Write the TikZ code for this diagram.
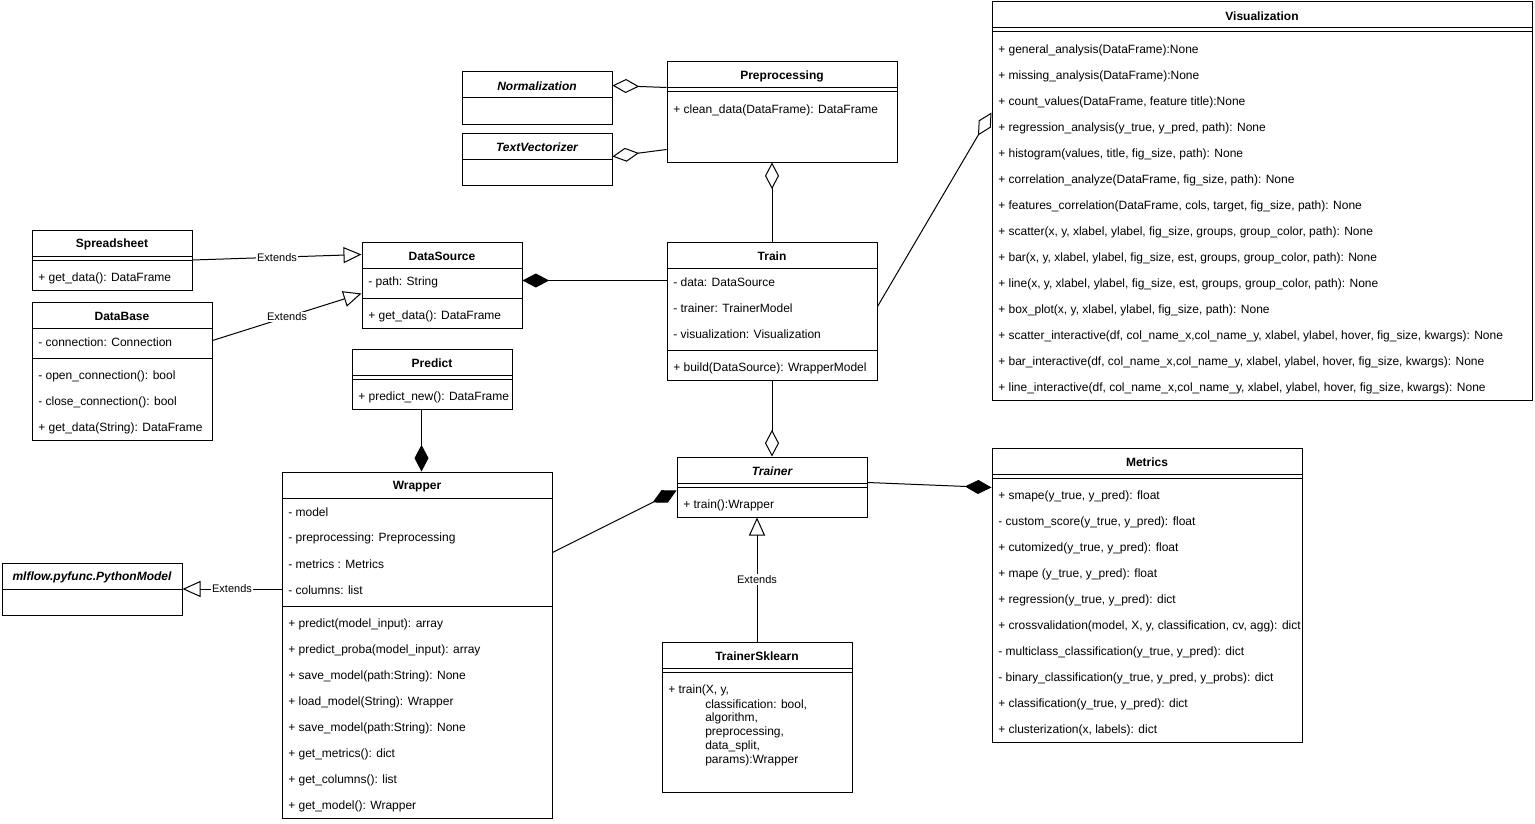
\documentclass[tikz,border=0pt]{standalone}
\usepackage{fontspec}
\setmainfont{Liberation Sans}
\usetikzlibrary{arrows.meta,fit,calc}
\begin{document}
\begin{tikzpicture}[x=0.75pt,y=-0.75pt,
  box/.style={draw, line width=0.75pt, inner sep=0pt},
  sep/.style={line width=0.75pt},
  txt/.style={anchor=west, inner sep=0pt, yshift=-1.2pt, font=\fontsize{9}{11}\selectfont},
  ttl/.style={inner sep=0pt, yshift=-1.2pt, font=\bfseries\fontsize{9}{11}\selectfont},
  ittl/.style={inner sep=0pt, yshift=-1.2pt, font=\bfseries\itshape\fontsize{9}{11}\selectfont},
  lbl/.style={fill=white, inner sep=1pt, font=\fontsize{8.25}{10}\selectfont},
  conn/.style={line width=0.75pt},
  ext/.style={conn, -{Triangle[open, length=13.5pt, width=12pt]}},
  agg/.style={conn, -{Diamond[open, length=20pt, width=10.5pt]}},
  comp/.style={conn, -{Diamond[length=20pt, width=10.5pt]}}]
\fill[white] (0,0) rectangle (1535,824);
\useasboundingbox (0,0) rectangle (1535,824);

% ---------- Visualization
\node[box, fit={(992,2)(1532,400)}] (vis) {};
\node[ttl] (vis-t) at (1262,15) {Visualization};
\draw[sep] (vis.west |- 0,28) -- (vis.east |- 0,28);
\draw[sep] (vis.west |- 0,32) -- (vis.east |- 0,32);
\foreach \t [count=\i] in {
 {+ general\_analysis(DataFrame):None},
 {+ missing\_analysis(DataFrame):None},
 {+ count\_values(DataFrame, feature title):None},
 {+ regression\_analysis(y\_true, y\_pred, path): None},
 {+ histogram(values, title, fig\_size, path): None},
 {+ correlation\_analyze(DataFrame, fig\_size, path): None},
 {+ features\_correlation(DataFrame, cols, target, fig\_size, path): None},
 {+ scatter(x, y, xlabel, ylabel, fig\_size, groups, group\_color, path): None},
 {+ bar(x, y, xlabel, ylabel, fig\_size, est, groups, group\_color, path): None},
 {+ line(x, y, xlabel, ylabel, fig\_size, est, groups, group\_color, path): None},
 {+ box\_plot(x, y, xlabel, ylabel, fig\_size, path): None},
 {+ scatter\_interactive(df, col\_name\_x,col\_name\_y, xlabel, ylabel, hover, fig\_size, kwargs): None},
 {+ bar\_interactive(df, col\_name\_x,col\_name\_y, xlabel, ylabel, hover, fig\_size, kwargs): None},
 {+ line\_interactive(df, col\_name\_x,col\_name\_y, xlabel, ylabel, hover, fig\_size, kwargs): None}}
 \node[txt] (vis-\i) at (998,{23+26*\i}) {\t};

% ---------- Preprocessing
\node[box, fit={(667,62)(897,162)}] (prep) {};
\node[ttl] (prep-t) at (782,75) {Preprocessing};
\draw[sep] (prep.west |- 0,88) -- (prep.east |- 0,88);
\draw[sep] (prep.west |- 0,92) -- (prep.east |- 0,92);
\node[txt] (prep-1) at (673,109) {+ clean\_data(DataFrame): DataFrame};

% ---------- Normalization
\node[box, fit={(462,72)(612,124)}] (norm) {};
\node[ittl] (norm-t) at (537,85) {Normalization};
\draw[sep] (norm.west |- 0,98) -- (norm.east |- 0,98);

% ---------- TextVectorizer
\node[box, fit={(462,133)(612,185)}] (tvec) {};
\node[ittl] (tvec-t) at (537,146) {TextVectorizer};
\draw[sep] (tvec.west |- 0,159) -- (tvec.east |- 0,159);

% ---------- Spreadsheet
\node[box, fit={(32,230)(192,290)}] (spread) {};
\node[ttl] (spread-t) at (112,243) {Spreadsheet};
\draw[sep] (spread.west |- 0,256) -- (spread.east |- 0,256);
\draw[sep] (spread.west |- 0,260) -- (spread.east |- 0,260);
\node[txt] (spread-1) at (38,277) {+ get\_data(): DataFrame};

% ---------- DataSource
\node[box, fit={(362,242)(522,328)}] (ds) {};
\node[ttl] (ds-t) at (442,255) {DataSource};
\draw[sep] (ds.west |- 0,268) -- (ds.east |- 0,268);
\node[txt] (ds-1) at (368,281) {- path: String};
\draw[sep] (ds.west |- 0,298) -- (ds.east |- 0,298);
\node[txt] (ds-2) at (368,315) {+ get\_data(): DataFrame};

% ---------- DataBase
\node[box, fit={(32,302)(212,440)}] (db) {};
\node[ttl] (db-t) at (122,315) {DataBase};
\draw[sep] (db.west |- 0,328) -- (db.east |- 0,328);
\node[txt] (db-1) at (38,341) {- connection: Connection};
\draw[sep] (db.west |- 0,358) -- (db.east |- 0,358);
\node[txt] (db-2) at (38,375) {- open\_connection(): bool};
\node[txt] (db-3) at (38,401) {- close\_connection(): bool};
\node[txt] (db-4) at (38,427) {+ get\_data(String): DataFrame};

% ---------- Train
\node[box, fit={(667,242)(877,380)}] (train) {};
\node[ttl] (train-t) at (772,255) {Train};
\draw[sep] (train.west |- 0,268) -- (train.east |- 0,268);
\node[txt] (train-1) at (673,281) {- data: DataSource};
\node[txt] (train-2) at (673,307) {- trainer: TrainerModel};
\node[txt] (train-3) at (673,333) {- visualization: Visualization};
\draw[sep] (train.west |- 0,350) -- (train.east |- 0,350);
\node[txt] (train-4) at (673,367) {+ build(DataSource): WrapperModel};

% ---------- Predict
\node[box, fit={(352,349)(512,409)}] (pred) {};
\node[ttl] (pred-t) at (432,362) {Predict};
\draw[sep] (pred.west |- 0,375) -- (pred.east |- 0,375);
\draw[sep] (pred.west |- 0,379) -- (pred.east |- 0,379);
\node[txt] (pred-1) at (358,396) {+ predict\_new(): DataFrame};

% ---------- Wrapper
\node[box, fit={(282,472)(552,818)}] (wrap) {};
\node[ttl] (wrap-t) at (417,485) {Wrapper};
\draw[sep] (wrap.west |- 0,498) -- (wrap.east |- 0,498);
\foreach \t [count=\i] in {{- model},{- preprocessing: Preprocessing},{- metrics : Metrics},{- columns: list}}
 \node[txt] (wrap-a\i) at (288,{485+26*\i}) {\t};
\draw[sep] (wrap.west |- 0,606) -- (wrap.east |- 0,606);
\foreach \t [count=\i] in {
 {+ predict(model\_input): array},
 {+ predict\_proba(model\_input): array},
 {+ save\_model(path:String): None},
 {+ load\_model(String): Wrapper},
 {+ save\_model(path:String): None},
 {+ get\_metrics(): dict},
 {+ get\_columns(): list},
 {+ get\_model(): Wrapper}}
 \node[txt] (wrap-m\i) at (288,{597+26*\i}) {\t};

% ---------- mlflow.pyfunc.PythonModel
\node[box, fit={(2,563)(182,615)}] (mlf) {};
\node[ittl] (mlf-t) at (92,576) {mlflow.pyfunc.PythonModel};
\draw[sep] (mlf.west |- 0,589) -- (mlf.east |- 0,589);

% ---------- Trainer
\node[box, fit={(677,457)(867,517)}] (trainer) {};
\node[ittl] (trainer-t) at (772,470) {Trainer};
\draw[sep] (trainer.west |- 0,483) -- (trainer.east |- 0,483);
\draw[sep] (trainer.west |- 0,487) -- (trainer.east |- 0,487);
\node[txt] (trainer-1) at (683,504) {+ train():Wrapper};

% ---------- TrainerSklearn
\node[box, fit={(662,642)(852,792)}] (tsk) {};
\node[ttl] (tsk-t) at (757,655) {TrainerSklearn};
\draw[sep] (tsk.west |- 0,668) -- (tsk.east |- 0,668);
\draw[sep] (tsk.west |- 0,672) -- (tsk.east |- 0,672);
\node[txt] (tsk-1) at (668,689) {+ train(X, y,};
\node[txt] (tsk-2) at (705,703) {classification: bool,};
\node[txt] (tsk-3) at (705,717) {algorithm,};
\node[txt] (tsk-4) at (705,731) {preprocessing,};
\node[txt] (tsk-5) at (705,745) {data\_split,};
\node[txt] (tsk-6) at (705,759) {params):Wrapper};

% ---------- Metrics
\node[box, fit={(992,448)(1302,742)}] (met) {};
\node[ttl] (met-t) at (1147,461) {Metrics};
\draw[sep] (met.west |- 0,474) -- (met.east |- 0,474);
\draw[sep] (met.west |- 0,478) -- (met.east |- 0,478);
\foreach \t [count=\i] in {
 {+ smape(y\_true, y\_pred): float},
 {- custom\_score(y\_true, y\_pred): float},
 {+ cutomized(y\_true, y\_pred): float},
 {+ mape (y\_true, y\_pred): float},
 {+ regression(y\_true, y\_pred): dict},
 {+ crossvalidation(model, X, y, classification, cv, agg): dict},
 {- multiclass\_classification(y\_true, y\_pred): dict},
 {- binary\_classification(y\_true, y\_pred, y\_probs): dict},
 {+ classification(y\_true, y\_pred): dict},
 {+ clusterization(x, labels): dict}}
 \node[txt] (met-\i) at (998,{469+26*\i}) {\t};

% ---------- connectors
\draw[ext] (spread.east) -- node[lbl] {Extends} ($(ds.north west)+(0,13)$);
\draw[ext] ($(db.north east)+(0,39)$) -- node[lbl] {Extends} ($(ds.north west)+(0,52)$);
\draw[comp] ($(train.north west)+(0,39)$) -- ($(ds.north east)+(0,39)$);
\draw[agg] ($(prep.north west)+(0,26)$) -- ($(norm.north east)+(0,14)$);
\draw[agg] ($(prep.north west)+(0,88)$) -- ($(tvec.north east)+(0,24)$);
\draw[agg] (train.north) -- (train.north |- prep.south);
\draw[agg] ($(train.north east)+(0,65)$) -- ($(vis.north west)+(0,111)$);
\draw[agg] (train.south) -- (trainer.north);
\draw[comp] ($(pred.south west)+(70,0)$) -- ($(wrap.north west)+(140,0)$);
\draw[comp] ($(wrap.north east)+(0,81)$) -- ($(trainer.north west)+(0,34)$);
\draw[comp] ($(trainer.north east)+(0,26)$) -- ($(met.north west)+(0,40)$);
\draw[ext] (wrap.west |- mlf.east) -- node[lbl] {Extends} (mlf.east);
\draw[ext] (tsk.north) -- node[lbl] {Extends} (tsk.north |- trainer.south);
\end{tikzpicture}
\end{document}
